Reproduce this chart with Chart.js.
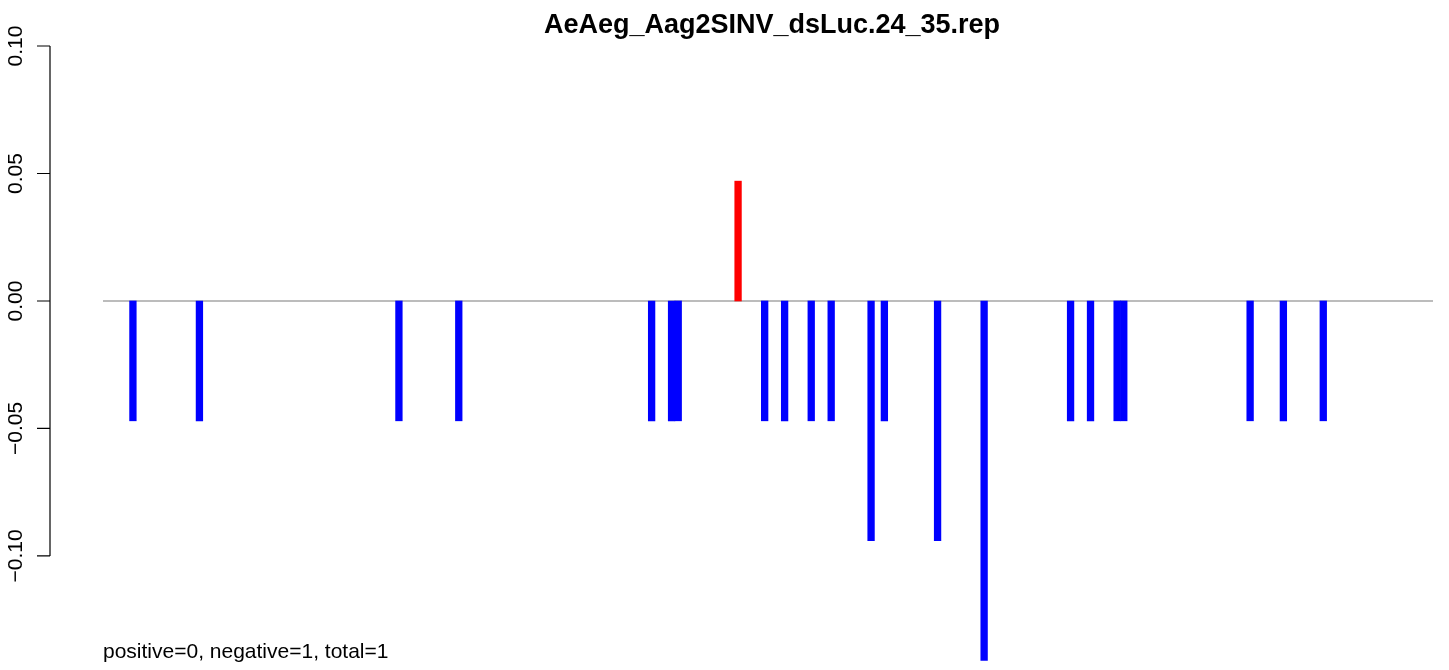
<!DOCTYPE html>
<html>
<head>
<meta charset="utf-8">
<script src="https://cdn.jsdelivr.net/npm/chart.js@4"></script>
<style>
  html, body { margin: 0; padding: 0; background: #fff; }
  #wrap { width: 1449px; height: 670px; }
</style>
</head>
<body>
<div id="wrap"><canvas id="chart1" width="1449" height="670"></canvas></div>
<script>
// 200 positions along the read, only a few carry a value
const nSlots = 200;
const slots = [4, 14, 44, 53, 82, 85, 86, 95, 99, 102, 106, 109, 115, 117, 125, 132, 145, 148, 152, 153, 172, 177, 183];
const values = [-0.047, -0.047, -0.047, -0.047, -0.047, -0.047, -0.047, 0.047, -0.047, -0.047, -0.047, -0.047,
  -0.094, -0.047, -0.094, -0.141, -0.047, -0.047, -0.047, -0.047, -0.047, -0.047, -0.047];
const yTicks = [-0.10, -0.05, 0.00, 0.05, 0.10];
const title = 'AeAeg_Aag2SINV_dsLuc.24_35.rep';
const footer = 'positive=0, negative=1, total=1';

const labels = [];
const data = [];
for (let i = 0; i < nSlots; i++) { labels.push(i + 1); data.push(null); }
slots.forEach((s, i) => { data[s] = values[i]; });
const colors = data.map(v => v > 0 ? '#ff0000' : '#0000ff');

const font = '"Liberation Sans", Arial, Helvetica, sans-serif';

const rPlot = {
  id: 'rPlot',
  beforeDatasetsDraw(chart) {
    const ctx = chart.ctx;
    const y = chart.scales.y;
    const y0 = y.getPixelForValue(0);
    ctx.save();
    ctx.strokeStyle = '#a6a6a6';
    ctx.lineWidth = 1.3;
    ctx.beginPath();
    ctx.moveTo(chart.chartArea.left, y0);
    ctx.lineTo(chart.chartArea.right, y0);
    ctx.stroke();
    ctx.restore();
  },
  afterDraw(chart) {
    const ctx = chart.ctx;
    const y = chart.scales.y;
    const ax = 50;
    ctx.save();
    ctx.strokeStyle = '#000';
    ctx.lineWidth = 1.2;
    ctx.beginPath();
    ctx.moveTo(ax, y.getPixelForValue(yTicks[yTicks.length - 1]));
    ctx.lineTo(ax, y.getPixelForValue(yTicks[0]));
    yTicks.forEach(t => {
      const py = y.getPixelForValue(t);
      ctx.moveTo(ax, py);
      ctx.lineTo(37, py);
    });
    ctx.stroke();

    ctx.fillStyle = '#000';
    ctx.font = '21px ' + font;
    ctx.textAlign = 'center';
    ctx.textBaseline = 'alphabetic';
    yTicks.forEach(t => {
      const py = y.getPixelForValue(t);
      const s = t.toFixed(2).replace('-', '\u2212');
      ctx.save();
      ctx.translate(22, py);
      ctx.rotate(-Math.PI / 2);
      ctx.fillText(s, 0, 0);
      ctx.restore();
    });

    ctx.font = 'bold 27px ' + font;
    ctx.textAlign = 'center';
    ctx.fillText(title, 772, 33);

    ctx.font = '21px ' + font;
    ctx.textAlign = 'left';
    ctx.fillText(footer, 103, 658);
    ctx.restore();
  }
};

function renderChart() {
  const ctx1 = document.getElementById('chart1');
  new Chart(ctx1, {
    type: 'bar',
    data: {
      labels: labels,
      datasets: [{
        data: data,
        backgroundColor: colors,
        borderWidth: 0,
        barPercentage: 1,
        categoryPercentage: 1
      }]
    },
    options: {
      responsive: false,
      animation: false,
      layout: { padding: { left: 103, right: 16, top: 46, bottom: 9 } },
      plugins: { legend: { display: false }, tooltip: { enabled: false } },
      scales: {
        x: { display: false, offset: true },
        y: { display: false, min: -0.1412, max: 0.1 }
      }
    },
    plugins: [rPlot]
  });
}
renderChart();
</script>
</body>
</html>
